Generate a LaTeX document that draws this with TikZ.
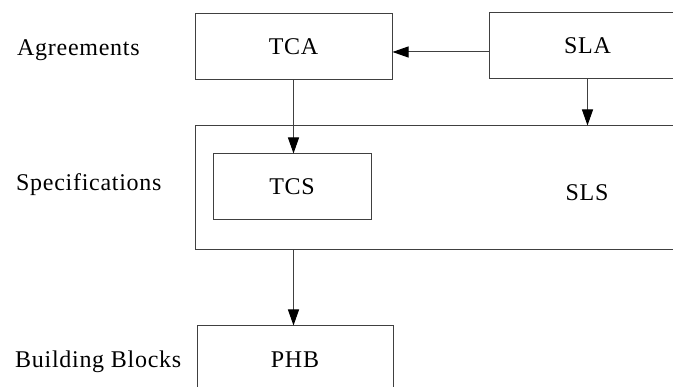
\documentclass[tikz,border=0pt]{standalone}
\usepackage{fontspec}
\setmainfont{Liberation Serif}[LetterSpace=3]
\usetikzlibrary{arrows.meta}
\begin{document}
\begin{tikzpicture}[x=1pt,y=1pt,
  every node/.style={font=\fontsize{24}{28}\selectfont},
  blk/.style={draw=black!75, line width=1pt, inner sep=0pt,
              text height=15.9pt, text depth=0pt},
  lbl/.style={anchor=base west, inner sep=0pt},
  arr/.style={draw=black!75, line width=1pt,
              -{Triangle[length=16pt,width=11pt,fill=black,color=black]}}]
\useasboundingbox (0,0) rectangle (673,-387);
\clip (0,0) rectangle (673,-387);

% row labels
\node[lbl] (agr)  at (17,-56)  {Agreements};
\node[lbl] (spec) at (16,-191) {Specifications};
\node[lbl] (bb)   at (15,-368) {Building Blocks};

% agreements
\node[blk, minimum width=197pt, minimum height=66pt] (tca) at (293.5,-47) {TCA};
\node[blk, minimum width=197pt, minimum height=66pt] (sla) at (587.5,-46) {SLA};

% specifications
\node[blk, minimum width=491pt, minimum height=124pt] (sls) at (440.5,-188) {};
\node[inner sep=0pt, text height=15.9pt, text depth=0pt] (slstext) at (587,-193) {SLS};
\node[blk, minimum width=158pt, minimum height=66pt] (tcs) at (292,-187) {TCS};

% building blocks
\node[blk, minimum width=196pt, minimum height=68pt] (phb) at (295,-360) {PHB};

% connectors
\coordinate (slaout) at ([yshift=-6pt]sla.west);
\draw[arr] (slaout) -- (slaout -| tca.east);
\draw[arr] (sla.south) -- (sla.south |- sls.north);
\draw[arr] (tca.south) -- (tca.south |- tcs.north);
\coordinate (slsout) at (tca.south |- sls.south);
\draw[arr] (slsout) -- (slsout |- phb.north);
\end{tikzpicture}
\end{document}
